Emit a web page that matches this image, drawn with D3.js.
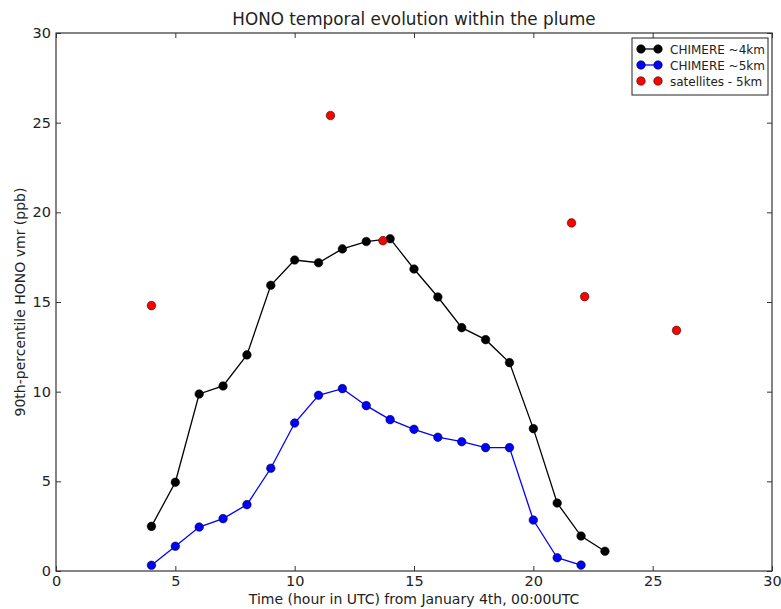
<!DOCTYPE html>
<html><head><meta charset="utf-8">
<script src="https://cdn.jsdelivr.net/npm/d3@7"></script>
<style>body{margin:0;background:#fff;} text{font-family:"DejaVu Sans",sans-serif;fill:#222;}</style>
</head><body>
<svg id="c" width="781" height="609"></svg>
<script>
const hours4km = [4,5,6,7,8,9,10,11,12,13,14,15,16,17,18,19,20,21,22,23];
const chimere4km = [2.49,4.95,9.87,10.32,12.05,15.93,17.34,17.19,17.96,18.37,18.53,16.84,15.28,13.57,12.90,11.62,7.94,3.79,1.95,1.10];
const hours5km = [4,5,6,7,8,9,10,11,12,13,14,15,16,17,18,19,20,21,22];
const chimere5km = [0.32,1.38,2.45,2.92,3.70,5.73,8.25,9.80,10.17,9.22,8.44,7.90,7.46,7.21,6.88,6.88,2.84,0.74,0.33];
const satHours = [4.0,11.5,13.7,21.6,22.15,26.0];
const satValues = [14.8,25.4,18.42,19.41,15.30,13.42];
const xTicks = [0,5,10,15,20,25,30];
const yTicks = [0,5,10,15,20,25,30];
const seriesNames = ["CHIMERE ~4km","CHIMERE ~5km","satellites - 5km"];
const seriesColors = ["#000000","#0000ff","#ff0000"];

const svg = d3.select("#c");
const L=56,R=772,T=33,B=571;
const x = d3.scaleLinear().domain([0,30]).range([L,R]);
const y = d3.scaleLinear().domain([0,30]).range([B,T]);

// frame
svg.append("rect").attr("x",L).attr("y",T).attr("width",R-L).attr("height",B-T)
  .attr("fill","none").attr("stroke","#333").attr("stroke-width",1.2);

const tl=5;
const gx = svg.append("g").attr("transform",`translate(0,${B})`)
  .call(d3.axisBottom(x).tickValues(xTicks).tickSizeInner(-tl).tickSizeOuter(0).tickPadding(5));
const gxt = svg.append("g").attr("transform",`translate(0,${T})`)
  .call(d3.axisTop(x).tickValues(xTicks).tickSizeInner(-tl).tickSizeOuter(0).tickFormat(""));
const gy = svg.append("g").attr("transform",`translate(${L},0)`)
  .call(d3.axisLeft(y).tickValues(yTicks).tickSizeInner(-tl).tickSizeOuter(0).tickPadding(5));
const gyr = svg.append("g").attr("transform",`translate(${R},0)`)
  .call(d3.axisRight(y).tickValues(yTicks).tickSizeInner(-tl).tickSizeOuter(0).tickFormat(""));
[gx,gxt,gy,gyr].forEach(g=>{
  g.select(".domain").remove();
  g.selectAll(".tick line").attr("stroke","#333");
  g.selectAll("text").style("font-size","14.5px").style("font-family","DejaVu Sans").attr("fill","#222");
});

svg.append("text").attr("x",(L+R)/2).attr("y",25).attr("text-anchor","middle")
  .style("font-size","16.8px").text("HONO temporal evolution within the plume");
svg.append("text").attr("x",(L+R)/2).attr("y",604).attr("text-anchor","middle")
  .style("font-size","14px").text("Time (hour in UTC) from January 4th, 00:00UTC");
svg.append("text").attr("transform",`translate(25,${(T+B)/2}) rotate(-90)`).attr("text-anchor","middle")
  .style("font-size","14px").text("90th-percentile HONO vmr (ppb)");

const line = d3.line().x(d=>x(d[0])).y(d=>y(d[1]));
const d4 = hours4km.map((h,i)=>[h,chimere4km[i]]);
const d5 = hours5km.map((h,i)=>[h,chimere5km[i]]);
const ds = satHours.map((h,i)=>[h,satValues[i]]);

svg.append("path").datum(d4).attr("d",line).attr("fill","none").attr("stroke",seriesColors[0]).attr("stroke-width",1.3);
svg.append("path").datum(d5).attr("d",line).attr("fill","none").attr("stroke",seriesColors[1]).attr("stroke-width",1.3);
function dots(data,color){
  svg.append("g").selectAll("circle").data(data).join("circle")
    .attr("cx",d=>x(d[0])).attr("cy",d=>y(d[1])).attr("r",4.3)
    .attr("fill",color).attr("stroke","#000").attr("stroke-width",0.5);
}
dots(d4,seriesColors[0]); dots(d5,seriesColors[1]); dots(ds,seriesColors[2]);

// legend
const lg = svg.append("g");
lg.append("rect").attr("x",632).attr("y",38).attr("width",136).attr("height",57)
  .attr("fill","#fff").attr("stroke","#222").attr("stroke-width",1);
seriesNames.forEach((n,i)=>{
  const yy = 49 + i*16;
  if(i<2) lg.append("line").attr("x1",641).attr("x2",658).attr("y1",yy).attr("y2",yy).attr("stroke",seriesColors[i]).attr("stroke-width",1.3);
  [641,658].forEach(cx=>lg.append("circle").attr("cx",cx).attr("cy",yy).attr("r",4.3)
    .attr("fill",seriesColors[i]).attr("stroke","#000").attr("stroke-width",0.5));
  lg.append("text").attr("x",670).attr("y",yy+4.5).style("font-size","12px").text(n);
});
</script>
</body></html>
